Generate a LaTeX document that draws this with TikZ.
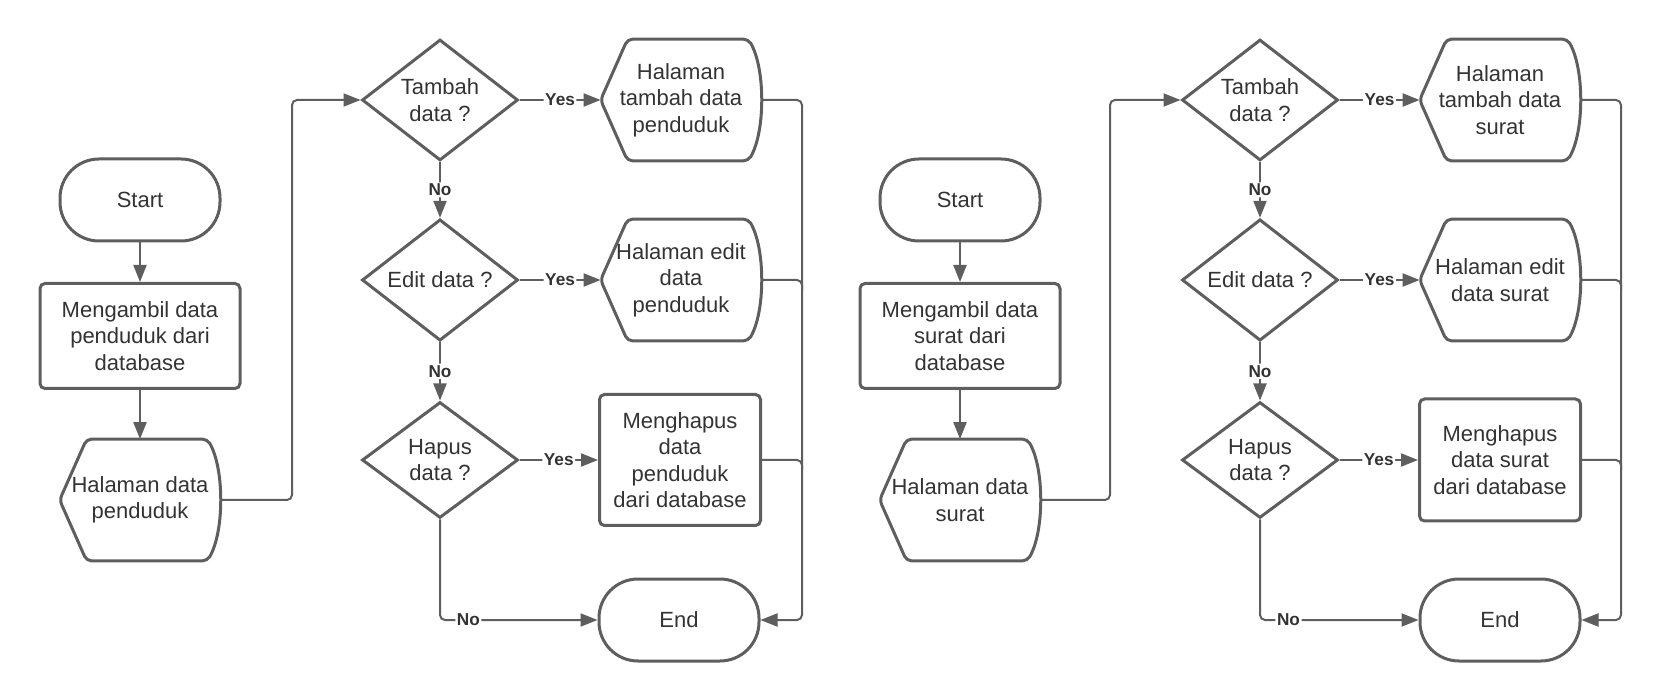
\documentclass[tikz,border=0pt]{standalone}
\usepackage{fontspec}
\setmainfont{Liberation Sans}
\usetikzlibrary{shapes.geometric,arrows.meta,calc}
\definecolor{ln}{HTML}{5E5E5E}
\definecolor{tx}{HTML}{333333}
\newcommand\dispoutline[1]{%
  \draw[draw=ln,line width=1.5pt,rounded corners=2.5pt]
    (#1.west) -- ($(#1.north west)+(27,0)$) -- ($(#1.north east)+(-13,0)$)
    .. controls ($(#1.north east)+(4,30)$) and ($(#1.south east)+(4,-30)$) .. ($(#1.south east)+(-13,0)$)
    -- ($(#1.south west)+(27,0)$) -- cycle;}
\begin{document}
\begin{tikzpicture}[x=0.5pt,y=-0.5pt,
  txt/.style={text=tx,font=\fontsize{11}{13.25}\selectfont,align=center,inner sep=0pt},
  base/.style={txt,draw=ln,line width=1.5pt},
  term/.style={base,rectangle,rounded corners=19.5pt,minimum width=80pt,minimum height=41pt},
  proc/.style={base,rectangle,rounded corners=2.5pt,minimum width=100pt,minimum height=52.5pt},
  dec/.style={base,diamond,minimum width=78pt,minimum height=58pt},
  disp/.style={txt,rectangle,minimum width=80pt,minimum height=60.5pt},
  conn/.style={draw=ln,line width=1pt,rounded corners=2.5pt},
  arr/.style={conn,-{Triangle[length=8.5pt,width=6.5pt]}},
  lab/.style={fill=white,font=\bfseries\fontsize{8.6}{10}\selectfont,text=tx,inner sep=0.8pt}
]
\useasboundingbox (0,0) rectangle (1662,700);

% ---------- left flowchart ----------
\node[term] (s1) at (140,200) {Start};
\node[proc] (p1) at (140,336) {Mengambil data\\penduduk dari\\database};
\node[disp] (d1) at (140,500) {Halaman data\\penduduk};
\dispoutline{d1}
\node[dec] (q1) at (440,100) {Tambah\\data ?};
\node[dec] (q2) at (440,280) {Edit data ?};
\node[dec] (q3) at (440,460) {Hapus\\data ?};
\node[disp] (h1) at (681,100) {Halaman\\tambah data\\penduduk};
\dispoutline{h1}
\node[disp] (h2) at (681,280) {Halaman edit\\data\\penduduk};
\dispoutline{h2}
\node[proc,minimum width=80.5pt,minimum height=65.5pt] (m1) at (680,460) {Menghapus\\data\\penduduk\\dari database};
\node[term] (e1) at (679,620) {End};
\coordinate (b1) at (292,0);
\coordinate (r1) at (802,0);

\draw[arr] (s1) -- (p1);
\draw[arr] (p1) -- (d1);
\draw[arr] (d1.east) -- (d1.east -| b1) -- (q1.west -| b1) -- (q1.west);
\draw[arr] (q1) -- node[lab]{Yes} (h1);
\draw[arr] (q2) -- node[lab]{Yes} (h2);
\draw[arr] (q3) -- node[lab]{Yes} (m1);
\draw[arr] (q1) -- node[lab]{No} (q2);
\draw[arr] (q2) -- node[lab]{No} (q3);
\draw[arr] (q3.south) -- (q3.south |- e1.west) -- node[lab,pos=0.18]{No} (e1.west);
\draw[arr] (h1.east) -- (h1.east -| r1) -- (e1.east -| r1) -- (e1.east);
\draw[conn] (h2.east) -- (h2.east -| r1) -- ($(h2.east -| r1)+(0,10)$);
\draw[conn] (m1.east) -- (m1.east -| r1) -- ($(m1.east -| r1)+(0,10)$);

% ---------- right flowchart ----------
\node[term] (s2) at (960,200) {Start};
\node[proc] (p2) at (960,336) {Mengambil data\\surat dari\\database};
\node[disp] (d2) at (960,500) {Halaman data\\surat};
\dispoutline{d2}
\node[dec] (q4) at (1260,100) {Tambah\\data ?};
\node[dec] (q5) at (1260,280) {Edit data ?};
\node[dec] (q6) at (1260,460) {Hapus\\data ?};
\node[disp] (h3) at (1500,100) {Halaman\\tambah data\\surat};
\dispoutline{h3}
\node[disp] (h4) at (1500,280) {Halaman edit\\data surat};
\dispoutline{h4}
\node[proc,minimum width=80.5pt,minimum height=61pt] (m2) at (1500,460) {Menghapus\\data surat\\dari database};
\node[term] (e2) at (1500,620) {End};
\coordinate (b2) at (1110,0);
\coordinate (r2) at (1621,0);

\draw[arr] (s2) -- (p2);
\draw[arr] (p2) -- (d2);
\draw[arr] (d2.east) -- (d2.east -| b2) -- (q4.west -| b2) -- (q4.west);
\draw[arr] (q4) -- node[lab]{Yes} (h3);
\draw[arr] (q5) -- node[lab]{Yes} (h4);
\draw[arr] (q6) -- node[lab]{Yes} (m2);
\draw[arr] (q4) -- node[lab]{No} (q5);
\draw[arr] (q5) -- node[lab]{No} (q6);
\draw[arr] (q6.south) -- (q6.south |- e2.west) -- node[lab,pos=0.18]{No} (e2.west);
\draw[arr] (h3.east) -- (h3.east -| r2) -- (e2.east -| r2) -- (e2.east);
\draw[conn] (h4.east) -- (h4.east -| r2) -- ($(h4.east -| r2)+(0,10)$);
\draw[conn] (m2.east) -- (m2.east -| r2) -- ($(m2.east -| r2)+(0,10)$);
\end{tikzpicture}
\end{document}
